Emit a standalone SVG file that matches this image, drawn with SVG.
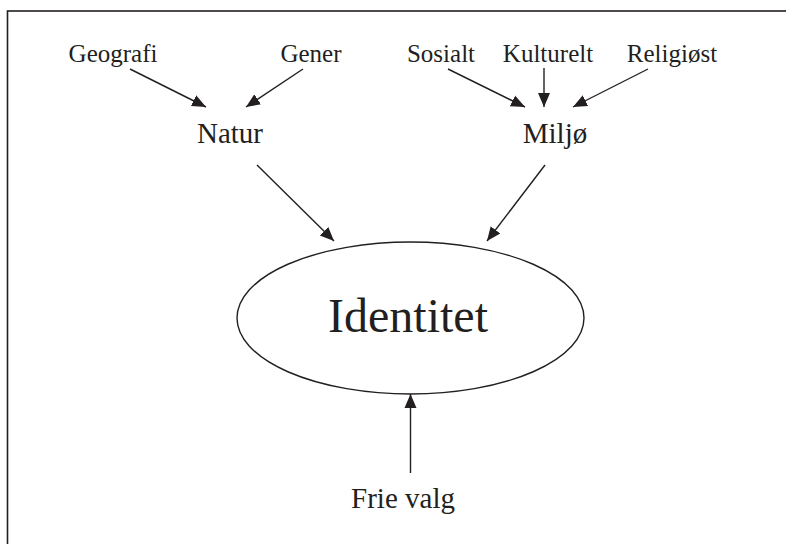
<svg xmlns="http://www.w3.org/2000/svg" width="786" height="544" viewBox="0 0 786 544">
<style>
text{font-family:"Liberation Serif","Times New Roman",serif;fill:#231f20;text-anchor:middle}
.s{font-size:25px}
.m{font-size:29px}
.l{font-size:48px}
.c line{stroke:#231f20;stroke-width:1.4;marker-end:url(#a)}
</style>
<defs>
<marker id="a" markerUnits="userSpaceOnUse" markerWidth="16" markerHeight="14" viewBox="0 0 16 14" refX="14" refY="7" orient="auto">
<path d="M0,1 L14,7 L0,13 Z" fill="#231f20"/>
</marker>
</defs>
<rect x="7.5" y="11" width="820" height="600" fill="none" stroke="#231f20" stroke-width="1.6"/>
<g id="geografi"><text class="s" x="113" y="62">Geografi</text></g>
<g id="gener"><text class="s" x="311" y="62">Gener</text></g>
<g id="sosialt"><text class="s" x="441" y="62">Sosialt</text></g>
<g id="kulturelt"><text class="s" x="548" y="62">Kulturelt</text></g>
<g id="religiost"><text class="s" x="672" y="62">Religiøst</text></g>
<g id="natur"><text class="m" x="230" y="143">Natur</text></g>
<g id="miljo"><text class="m" x="555" y="143">Miljø</text></g>
<g id="identitet"><ellipse cx="410.5" cy="318" rx="173.5" ry="76" fill="none" stroke="#231f20" stroke-width="1.4"/><text class="l" x="408" y="332">Identitet</text></g>
<g id="frievalg"><text class="m" x="403" y="508">Frie valg</text></g>
<g class="c" id="connectors">
<line x1="130" y1="69" x2="206" y2="107"/>
<line x1="303" y1="69" x2="246" y2="107"/>
<line x1="448" y1="69" x2="525" y2="107"/>
<line x1="544" y1="68" x2="544" y2="107"/>
<line x1="648" y1="69" x2="573" y2="107"/>
<line x1="257" y1="165" x2="334" y2="241"/>
<line x1="545" y1="165" x2="487" y2="241"/>
<line x1="410.5" y1="473" x2="410.5" y2="394"/>
</g>
</svg>
